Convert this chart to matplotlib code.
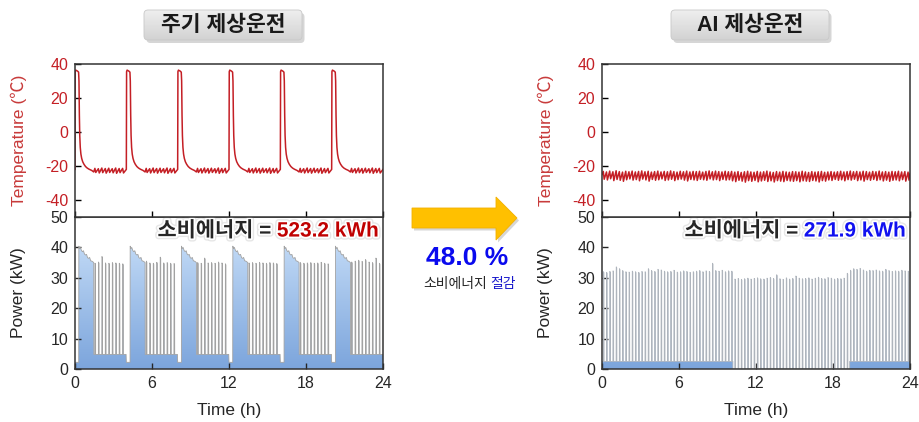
import numpy as np
import matplotlib
matplotlib.use('Agg')
import matplotlib.pyplot as plt
from matplotlib.patches import FancyBboxPatch, Polygon
from matplotlib.colors import LinearSegmentedColormap
import matplotlib.patheffects as pe

plt.rcParams['font.family'] = ['Liberation Sans', 'Noto Sans CJK KR', 'DejaVu Sans']
plt.rcParams['axes.unicode_minus'] = False

# ---------------- data ----------------
hour_ticks = [0, 6, 12, 18, 24]
temp_ticks = [40, 20, 0, -20, -40]
power_ticks = [0, 10, 20, 30, 40, 50]

# 주기 제상운전 : defrost every 4 h
defrost_start_h = [0, 4, 8, 12, 16, 20]
# defrost + pull-down, offsets (h) from defrost start
pulldown_t = [0.00, 0.02, 0.06, 0.20, 0.28, 0.31, 0.34, 0.37, 0.41, 0.46, 0.52,
              0.60, 0.70, 0.82, 0.95, 1.10, 1.30, 1.46]
pulldown_temp = [-22.0, 35.5, 36.4, 35.8, 35.2, 30.0, 10.0, -2.0, -9.0, -13.0, -15.5,
                 -17.5, -19.0, -20.3, -21.2, -21.9, -22.6, -23.5]
pulldown_kw_t = [0.00, 0.29, 0.30, 0.36, 0.42, 0.50, 0.58, 0.66, 0.74, 0.82, 0.90,
                 0.98, 1.06, 1.14, 1.22, 1.30, 1.38, 1.46, 1.47]
pulldown_kw = [2.2, 2.2, 40.4, 39.6, 40.0, 39.0, 38.6, 38.9, 37.8, 37.5, 37.7,
               36.6, 36.4, 36.7, 35.6, 35.5, 35.3, 35.0, 4.8]
cycling_on_h = [1.55, 1.82, 2.09, 2.36, 2.63, 2.90, 3.17, 3.44, 3.71]
cycling_temp_hi = [-21.4, -21.6, -21.2, -21.5, -21.3, -21.6, -21.2, -21.5, -21.4]
cycling_temp_lo = [-23.8, -24.1, -23.9, -24.2, -23.8, -24.0, -24.3, -23.9, -24.1]
cycling_peak_kw = [
    [34.8, 35.2, 37.0, 34.9, 34.8, 35.0, 34.9, 34.8, 34.6],
    [35.5, 34.9, 34.8, 35.1, 36.8, 34.9, 35.0, 34.8, 34.7],
    [35.0, 34.8, 36.5, 34.9, 35.0, 34.8, 35.2, 34.9, 34.6],
    [34.9, 35.0, 34.8, 35.1, 34.9, 34.8, 35.0, 34.9, 34.7],
    [35.0, 34.8, 34.9, 35.0, 34.8, 34.9, 35.1, 34.8, 34.6],
    [35.2, 35.5, 35.8, 35.4, 36.0, 35.2, 35.0, 36.5, 34.8],
]
cycling_off_kw = 4.8

# AI 제상운전 : short compressor cycles, no defrost peak
ai_period_h = 0.25
ai_peak_kw = [
    32.0, 31.8, 32.1, 32.3, 33.6, 33.0, 32.4, 32.0, 31.9, 32.2,
    32.0, 31.8, 32.1, 32.0, 33.0, 32.4, 32.1, 32.8, 32.6, 32.2,
    32.0, 32.1, 32.5, 31.9, 32.0, 32.3, 32.1, 31.8, 32.0, 32.2,
    32.4, 32.0, 32.3, 32.1, 34.8, 32.4, 32.2, 32.5, 32.0, 32.3, 32.2,
    29.6, 29.8, 29.5, 29.7, 29.9, 29.6, 29.8, 30.0, 29.7, 29.6,
    29.9, 30.1, 29.8, 31.0, 29.7, 29.5, 30.0, 29.6, 29.8, 30.6,
    29.9, 29.7, 29.8, 30.0, 29.6, 29.9, 30.2, 29.8, 29.7, 30.1,
    29.9, 29.6, 29.8, 29.7, 29.9, 31.5,
    32.5, 33.0, 32.8, 33.1, 32.6, 32.2, 32.5, 32.4, 32.6, 32.3,
    32.2, 32.8, 32.4, 32.1, 32.3, 32.2, 32.5, 32.3, 32.2]
ai_temp_hi = [
    -23.2, -23.5, -23.0, -23.4, -22.8, -23.3, -23.6, -23.1, -23.4, -23.0,
    -23.5, -23.2, -22.9, -23.4, -23.1, -23.6, -23.3, -23.0, -23.5, -23.2,
    -23.4, -22.9, -23.3, -23.6, -23.1, -23.4, -23.0, -23.5, -23.2, -23.3,
    -23.1, -23.6, -23.2, -22.9, -23.4, -23.0, -23.3, -23.5, -23.1, -23.4,
    -23.2, -23.6, -23.3, -23.8, -23.4, -23.1, -23.5, -23.7, -23.2, -23.6,
    -23.4, -23.0, -23.5, -23.8, -23.3, -23.6, -23.2, -23.5, -23.7, -23.3,
    -23.4, -23.6, -23.1, -23.5, -23.8, -23.3, -23.6, -23.4, -23.2, -23.7,
    -23.5, -23.3, -23.6, -23.4, -23.1, -23.5, -23.3, -23.0, -23.4, -23.2,
    -23.5, -23.1, -23.3, -23.6, -23.2, -23.4, -23.0, -23.5, -23.3, -23.6,
    -23.2, -23.4, -23.1, -23.5, -23.3, -23.6]
ai_temp_lo = [
    -27.8, -28.2, -27.5, -28.6, -27.9, -28.4, -29.0, -28.1, -27.6, -28.3,
    -28.0, -28.7, -27.7, -28.2, -28.9, -27.9, -28.4, -28.1, -27.6, -28.5,
    -28.2, -27.8, -28.6, -28.0, -27.7, -28.3, -28.8, -27.9, -28.2, -28.5,
    -27.8, -28.1, -28.4, -27.6, -28.2, -28.0, -28.6, -27.9, -28.3, -28.1,
    -28.7, -29.2, -28.4, -28.9, -29.5, -28.6, -29.0, -28.5, -29.3, -28.8,
    -28.4, -29.1, -28.7, -29.4, -28.6, -28.9, -29.2, -28.5, -28.8, -29.0,
    -28.6, -29.3, -28.7, -28.9, -29.1, -28.5, -28.8, -29.4, -28.6, -28.9,
    -28.2, -28.5, -27.9, -28.4, -28.1, -28.7, -28.0, -28.3, -27.8, -28.6,
    -28.2, -28.9, -28.0, -28.4, -27.9, -28.5, -28.1, -28.8, -28.3, -29.0,
    -28.4, -28.2, -28.7, -28.0, -28.9, -28.3]
ai_base_edges_h = [0, 10.2, 19.3, 24]
ai_base_kw = [2.5, 0.0, 2.5]

titles = ['주기 제상운전', 'AI 제상운전']
energy_text = ['523.2 kWh', '271.9 kWh']
energy_color = ['#C00000', '#1010F0']
saving_text = '48.0 %'

TEMP_RED = '#C41F25'
LABEL_RED = '#C83A3A'
DARK = '#262626'

# ---------------- build series ----------------
lt, lT, lp_t, lp = [], [], [], []
for c, s in enumerate(defrost_start_h):
    lt += [s + o for o in pulldown_t]
    lT += pulldown_temp
    lp_t += [s + o for o in pulldown_kw_t]
    lp += pulldown_kw
    for i, on in enumerate(cycling_on_h):
        lt += [s + on, s + on + 0.07]
        lT += [cycling_temp_hi[i], cycling_temp_lo[i]]
        pk = cycling_peak_kw[c][i]
        lp_t += [s + on, s + on + 0.01, s + on + 0.05, s + on + 0.06]
        lp += [cycling_off_kw, pk, pk - 0.4, cycling_off_kw]
    lp_t.append(s + 3.98)
    lp.append(cycling_off_kw)
lt.append(24)
lT.append(-22.0)
lp_t.append(24)
lp.append(cycling_off_kw)


def base_at(t):
    idx = np.searchsorted(ai_base_edges_h, t, side='right') - 1
    return ai_base_kw[min(idx, len(ai_base_kw) - 1)]


rt, rT = [0.0], [-25.0]
rp_t, rp = [0.0], [ai_base_kw[0]]
for k, pk in enumerate(ai_peak_kw):
    s = k * ai_period_h + 0.1
    b = base_at(s)
    rp_t += [s, s + 0.01, s + 0.05, s + 0.06]
    rp += [b, pk, pk - 0.3, b]
    rt += [s, s + 0.07]
    rT += [ai_temp_hi[k], ai_temp_lo[k]]
for e, bl, br in zip(ai_base_edges_h[1:-1], ai_base_kw[:-1], ai_base_kw[1:]):
    rp_t += [e, e]
    rp += [bl, br]
rp_t.append(24)
rp.append(ai_base_kw[-1])
rt.append(24)
rT.append(-24.5)
order = np.argsort(rp_t, kind='stable')
rp_t = np.array(rp_t)[order]
rp = np.array(rp)[order]

blue_cmap = LinearSegmentedColormap.from_list('pw', ['#7CA5DC', '#CFE4FB'])

# ---------------- figure ----------------
fig = plt.figure(figsize=(9.2, 4.22), dpi=100)
over = fig.add_axes([0, 0, 1, 1], zorder=0)
over.set_xlim(0, 920)
over.set_ylim(422, 0)
over.axis('off')


def style_axes(ax):
    for sp in ax.spines.values():
        sp.set_linewidth(1.1)
        sp.set_color('#333333')
    ax.set_xlim(0, 24)
    ax.set_xticks(hour_ticks)
    ax.tick_params(direction='in', length=4, width=1, top=False, right=False,
                   labelsize=11.5, pad=5)


def power_panel(ax, t, p, label, color, line_color):
    patch = Polygon([(t[0], 0)] + list(zip(t, p)) + [(t[-1], 0)], closed=True,
                    facecolor='none', edgecolor='none')
    ax.add_patch(patch)
    grad = np.linspace(1, 0, 256).reshape(-1, 1)
    im = ax.imshow(grad, extent=(0, 24, 0, 50), origin='upper', aspect='auto',
                   cmap=blue_cmap, zorder=1)
    im.set_clip_path(patch)
    ax.plot(t, p, color=line_color, lw=0.6, zorder=2)
    style_axes(ax)
    ax.set_ylim(0, 50)
    ax.set_yticks(power_ticks)
    ax.tick_params(colors=DARK)
    ax.set_xlabel('Time (h)', fontsize=12.5, color=DARK, labelpad=9)
    fx = [pe.Stroke(linewidth=4.5, foreground='#c8c8c8', alpha=0.45),
          pe.Stroke(linewidth=2.5, foreground='white'), pe.Normal()]
    t1 = ax.text(0.987, 0.97, label, transform=ax.transAxes, ha='right', va='top',
                 fontsize=15, fontweight='bold', color=color, zorder=5, path_effects=fx)
    ax.annotate('소비에너지 = ', xy=(0, 0), xycoords=t1, ha='right', va='bottom',
                fontsize=15, fontweight='bold', color=DARK, zorder=5, path_effects=fx)


def temp_panel(ax, t, T):
    ax.plot(t, T, color=TEMP_RED, lw=1.1)
    style_axes(ax)
    ax.set_ylim(-50, 40)
    ax.set_yticks(temp_ticks)
    ax.tick_params(axis='x', labelbottom=False)
    ax.tick_params(axis='y', labelcolor=TEMP_RED)


panels = [(75, (lt, lT), (lp_t, lp), '#A2A2A2'), (602, (rt, rT), (rp_t, rp), '#AEB4BC')]
for j, (x0, tdata, pdata, lc) in enumerate(panels):
    axT = fig.add_axes([x0 / 920, 1 - 217 / 422, 308 / 920, 153 / 422], zorder=2)
    axP = fig.add_axes([x0 / 920, 1 - 369 / 422, 308 / 920, 152 / 422], zorder=1)
    temp_panel(axT, *tdata)
    power_panel(axP, *pdata, energy_text[j], energy_color[j], lc)

    over.text(x0 - 56, 140, 'Temperature (℃)', rotation=90, ha='center', va='center',
              fontsize=12.5, color=LABEL_RED)
    over.text(x0 - 56, 293, 'Power (kW)', rotation=90, ha='center', va='center',
              fontsize=12.5, color=DARK)

    # title box
    cx = x0 + 148
    over.add_patch(FancyBboxPatch((cx - 79 + 2.5, 13), 158, 30,
                                  boxstyle='round,pad=0,rounding_size=4',
                                  fc='#9a9a9a', ec='none', alpha=0.4, zorder=1))
    box = FancyBboxPatch((cx - 79, 10), 158, 30, boxstyle='round,pad=0,rounding_size=4',
                         fc='none', ec='#c8c8c8', lw=0.6, zorder=3)
    over.add_patch(box)
    g = over.imshow(np.linspace(0, 1, 64).reshape(-1, 1), extent=(cx - 79, cx + 79, 40, 10),
                    origin='upper', aspect='auto', zorder=2,
                    cmap=LinearSegmentedColormap.from_list('gb', ['#EFEFEF', '#D2D2D2']))
    g.set_clip_path(box)
    over.text(cx, 25.5, titles[j], ha='center', va='center', fontsize=15.5,
              fontweight='bold', color='#1a1a1a', zorder=4)

over.set_xlim(0, 920)
over.set_ylim(422, 0)

# arrow between panels
arrow_pts = [(412, 208), (496, 208), (496, 197), (517, 218), (496, 240), (496, 228), (412, 228)]
over.add_patch(Polygon([(x + 2, y + 2.5) for x, y in arrow_pts], closed=True,
                       fc='#9a9a9a', ec='none', alpha=0.4, zorder=1))
over.add_patch(Polygon(arrow_pts, closed=True, fc='#FFC000', ec='#F2B000', lw=0.6, zorder=2))
over.text(467, 258, saving_text, ha='center', va='center', fontsize=19,
          fontweight='bold', color='#0A0AEE')
over.text(487, 288, '소비에너지', ha='right', va='baseline', fontsize=10, color=DARK)
over.text(490, 288, '절감', ha='left', va='baseline', fontsize=10, color='#1A1ACC')

fig.savefig('out.png', dpi=100)
